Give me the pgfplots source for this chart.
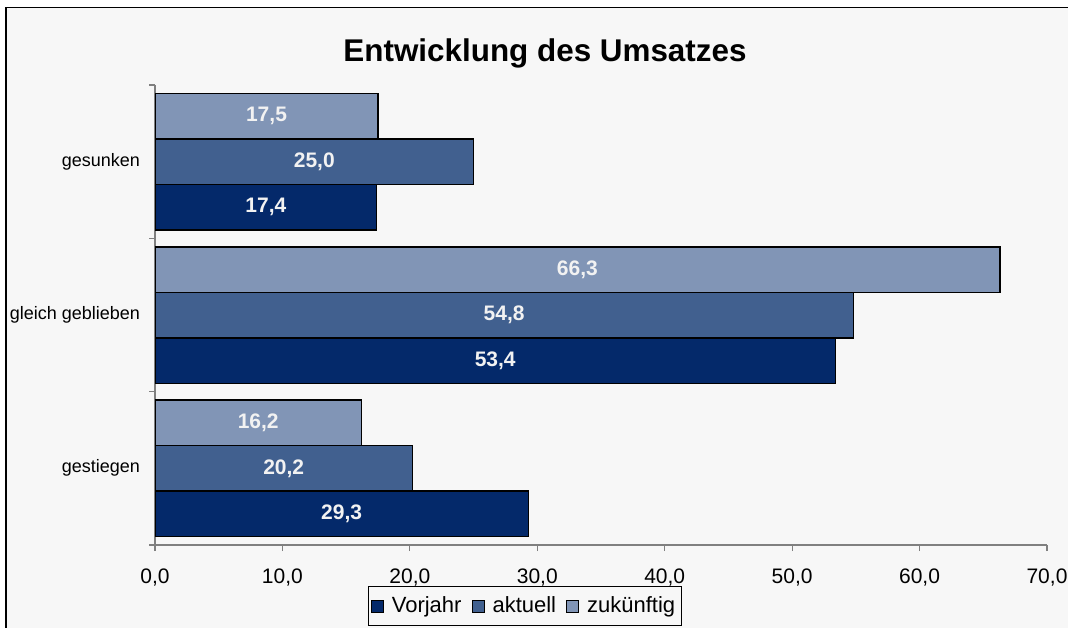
\documentclass[border=0pt]{standalone}
\usepackage{pgfplots}
\pgfplotsset{compat=1.18}
\usepackage{fontspec}
\setmainfont{Liberation Sans}
\definecolor{bgc}{HTML}{F7F7F7}
\definecolor{cvor}{HTML}{04296A}
\definecolor{cakt}{HTML}{41608F}
\definecolor{czuk}{HTML}{8195B6}
\definecolor{axgray}{HTML}{808080}
\definecolor{lbl}{HTML}{F2F2F2}

\begin{document}
\begin{tikzpicture}
\useasboundingbox (0,0) rectangle (534pt,-313.5pt);
\clip (0,0) rectangle (534pt,-313.5pt);
\fill[white] (0,0) rectangle (534pt,-313.5pt);
\draw[fill=bgc, line width=0.8pt] (3pt,-3.75pt) rectangle (560pt,-340pt);
\node[anchor=base, font=\bfseries\fontsize{15.7}{18}\selectfont] at (272.5pt,-30.5pt) {Entwicklung des Umsatzes};
\begin{axis}[
  at={(77.5pt,-42.5pt)}, anchor=north west,
  scale only axis, width=446pt, height=230pt,
  xbar, bar width=22.75pt,
  xmin=0, xmax=70, ymin=-0.5, ymax=2.5,
  axis x line*=bottom, axis y line*=left,
  axis line style={axgray, line width=0.6pt},
  tick style={axgray, line width=0.6pt},
  tick align=outside, major tick length=3pt,
  xtick={0,10,...,70},
  xticklabel style={font=\fontsize{10.5}{12}\selectfont, yshift=-5.5pt,
    /pgf/number format/.cd, use comma, fixed, fixed zerofill, precision=1},
  /pgf/number format/assume math mode=true,
  ytick={-0.5,0.5,1.5,2.5},
  yticklabels={gestiegen,gleich geblieben,gesunken},
  y tick label as interval,
  yticklabel style={font=\fontsize{9}{11}\selectfont, xshift=-1pt},
  visualization depends on={x \as \xv},
  nodes near coords={\pgfmathprintnumber[use comma,fixed,fixed zerofill,precision=1]{\pgfplotspointmeta}},
  nodes near coords style={anchor=center, text=lbl,
    font=\bfseries\fontsize{10.5}{12}\selectfont, xshift={-3.18571pt*\xv}},
  legend style={at={(0.4148,-0.09)}, anchor=north, legend columns=3,
    draw=black, fill=bgc, font=\fontsize{11}{13}\selectfont,
    inner xsep=1pt, inner ysep=3pt,
    /tikz/every odd column/.append style={column sep=2pt},
    /tikz/every even column/.append style={column sep=3pt}},
  legend image code/.code={\draw[#1, draw=black, line width=0.5pt] (0pt,-3pt) rectangle (6pt,3pt);},
]
\addplot[fill=cvor, draw=black, line width=0.75pt, bar shift=-22.75pt]
  coordinates {(29.3,0) (53.4,1) (17.4,2)};
\addlegendentry{Vorjahr}
\addplot[fill=cakt, draw=black, line width=0.75pt, bar shift=0pt]
  coordinates {(20.2,0) (54.8,1) (25.0,2)};
\addlegendentry{aktuell}
\addplot[fill=czuk, draw=black, line width=0.75pt, bar shift=22.75pt]
  coordinates {(16.2,0) (66.3,1) (17.5,2)};
\addlegendentry{zukünftig}
\end{axis}
\end{tikzpicture}
\end{document}
